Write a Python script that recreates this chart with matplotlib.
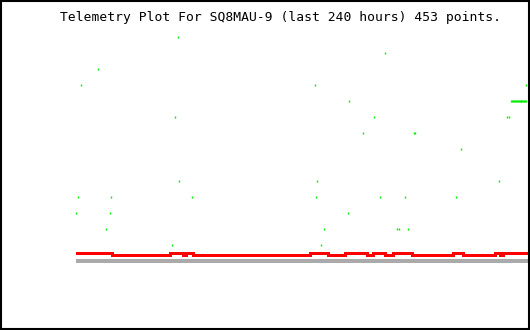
import matplotlib
matplotlib.use('Agg')
import matplotlib.pyplot as plt
from matplotlib.patches import Rectangle

# hours within the last 240 h, value levels in plot units
title = "Telemetry Plot For SQ8MAU-9 (last 240 hours) 453 points."

# red trace (step series)
red_x = [0, 3.2, 19.1, 49.8, 56.7, 58.3, 62.0, 124.0, 133.5, 142.5, 145.2, 151.5,
         154.2, 157.4, 163.7, 167.9, 178.0, 199.7, 205.0, 222.0, 224.6, 226.2, 240]
red_y = [0.50, 0.45, 0.37, 0.45, 0.37, 0.45, 0.37, 0.45, 0.37, 0.45, 0.50, 0.45,
         0.37, 0.45, 0.37, 0.45, 0.37, 0.45, 0.37, 0.45, 0.37, 0.45, 0.45]

# gray baseline
gray_x = [0, 240]
gray_y = [0, 0]

# green scattered samples
green_x = [54.0, 163.7, 11.7, 2.6, 126.6, 238.4, 144.6,
           230.5, 231.0, 231.5, 232.0, 232.5, 233.0, 233.5, 234.0, 234.5,
           235.0, 235.5, 236.0, 236.5, 237.0, 237.5, 238.0, 238.4,
           52.5, 157.9, 228.3, 229.4, 152.1, 179.1, 179.6, 204.0,
           54.6, 127.7, 224.1, 1.1, 18.5, 61.5, 127.2, 161.1, 174.3, 201.3,
           0.0, 18.0, 144.1, 15.9, 131.4, 170.1, 171.1, 175.9, 50.9, 129.8]
green_y = [14, 13, 12, 11, 11, 11, 10,
           10, 10, 10, 10, 10, 10, 10, 10, 10,
           10, 10, 10, 10, 10, 10, 10, 10,
           9, 9, 9, 9, 8, 8, 8, 7,
           5, 5, 5, 4, 4, 4, 4, 4, 4, 4,
           3, 3, 3, 2, 2, 2, 2, 2, 1, 1]

W, H = 530, 330
fig = plt.figure(figsize=(W/100, H/100), dpi=100)
fig.patch.set_facecolor('white')

ax = fig.add_axes([76/W, 0, 453/W, 1])
ax.axis('off')
ax.set_xlim(0, 240)
ax.set_ylim((260.5-330)/16, 260.5/16)

ax.plot(gray_x, gray_y, c='#aaaaaa', lw=1.5, solid_capstyle='butt', antialiased=False)
ax.plot(red_x, red_y, c='#ff0000', lw=2.0, drawstyle='steps-post', antialiased=False)
ax.plot(green_x, green_y, ls='none', marker='|', markersize=1.6, mew=1.0,
        c='#00ee00', clip_on=False, antialiased=False)

fig.text(60/W, 1-17/H, title, family='DejaVu Sans Mono', fontsize=9.35,
         ha='left', va='center', color='black')

fig.patches.append(Rectangle((1/W, 1/H), 528/W, 328/H, transform=fig.transFigure,
                             fill=False, ec='black', lw=1.5, figure=fig))

fig.savefig('out.png', dpi=100)
